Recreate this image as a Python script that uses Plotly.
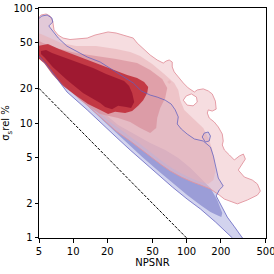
import math
import plotly.graph_objects as go

# ---- Blue group KDE contours (NPSNR, sigma_s rel %) ----
B1_X = [4.8, 5.3, 5.9, 6.5, 6.6, 6.1, 6.5, 7.4, 8.8, 11.0, 13.3, 17.3, 22.5, 27.6, 33.8, 39.8, 47.7, 55.0, 64.7, 73.1,
        79.3, 84.3, 82.6, 89.6, 101, 117, 140, 162, 172, 179, 190, 210, 194, 182, 206, 228, 264, 310, 336, 258,
        253, 179, 132, 101, 74.6, 55.0, 40.6, 31.8, 23.9, 17.3, 13.3, 8.83, 7.82, 7.07, 5.77, 5.0, 4.7]
B1_Y = [78.6, 85.2, 86.9, 81.8, 75.5, 69.8, 64.4, 54.8, 46.7, 41.4, 37.5, 33.9, 28.9, 25.1, 22.3, 19.0, 17.5, 16.8, 15.8, 14.6,
        13.0, 11.3, 9.8, 8.87, 8.02, 7.26, 6.97, 6.18, 5.16, 4.31, 3.32, 2.83, 2.62, 2.32, 1.86, 1.52, 1.25, 1.0, 0.93, 0.93,
        1.0, 1.38, 1.79, 2.18, 2.78, 3.60, 4.67, 5.82, 7.55, 10.2, 13.0, 18.6, 21.8, 24.6, 32.6, 38.2, 41.4]
B1_ISL_X = [137, 143, 155, 162, 158, 146]
B1_ISL_Y = [7.55, 8.18, 8.35, 7.71, 6.97, 6.84]
B2_X = [4.8, 7.07, 13.3, 23.9, 31.8, 40.6, 55.0, 74.6, 101, 132, 162, 186, 202, 206, 186, 162, 132, 108, 84.3, 64.7,
        47.7, 35.2, 24.9, 17.3, 11.5, 7.66, 5.65, 4.8]
B2_Y = [45.8, 26.7, 14.1, 8.18, 6.31, 5.06, 3.90, 3.01, 2.36, 1.94, 1.68, 1.58, 1.52, 1.65, 2.14, 2.72, 3.32, 4.06, 4.96, 5.82,
        6.70, 7.87, 9.61, 13.0, 18.6, 27.8, 41.4, 48.6]

# ---- Red group KDE contours ----
R1_X = [4.8, 5.2, 5.77, 6.25, 6.6, 6.78, 7.36, 8.14, 9.38, 10.6, 13.3, 15.6, 18.4, 20.3, 23.9, 28.7, 33.8, 36.6, 41.4, 47.7,
        55.0, 62.2, 66.0, 70.2, 74.6, 74.6, 77.7, 84.3, 93.3, 103, 117, 124, 140, 155, 168, 179, 182, 168, 155, 152,
        158, 175, 190, 206, 210, 206, 215, 238, 263, 291, 316, 329, 303, 285, 322, 379, 420, 446, 420, 343,
        280, 248, 215, 194, 162, 132, 112, 89.6, 71.6, 58.5, 47.7, 40.6, 31.8, 23.9, 17.3, 13.3, 9.38, 7.66, 6.25, 5.31, 4.8]
R1_Y = [78.6, 86.9, 88.7, 85.2, 77.1, 64.4, 58.2, 54.8, 53.2, 53.7, 54.8, 58.2, 60.6, 61.9, 60.6, 57.1, 54.8, 49.6, 44.0, 39.0,
        35.3, 33.2, 34.6, 35.3, 33.9, 30.7, 27.8, 25.1, 22.3, 20.2, 18.6, 19.4, 19.8, 19.0, 17.9, 15.5, 13.2, 12.7, 13.0, 12.2,
        11.05, 10.2, 9.23, 8.02, 6.97, 6.44, 5.82, 5.27, 4.77, 5.16, 5.37, 4.86, 4.23, 3.90, 3.39, 3.19, 2.95, 2.56, 2.36, 2.14,
        1.98, 2.06, 2.18, 2.36, 2.67, 2.89, 3.07, 3.39, 3.83, 4.40, 5.16, 5.82, 6.97, 8.52, 11.3, 14.1, 19.4, 24.1, 30.7, 37.5, 41.4]
HOLE_X = [93.3, 99.2, 110, 122, 124, 114, 101]
HOLE_Y = [15.8, 17.2, 17.9, 16.8, 15.2, 14.1, 14.3]
R2_ISL_X = [67.4, 70.2, 73.1, 70.2]
R2_ISL_Y = [22.7, 23.7, 22.7, 21.8]
R2_X = [4.8, 5.2, 6.25, 7.82, 10.6, 15.9, 23.9, 31.8, 38.9, 49.7, 63.4, 77.7, 84.3, 87.8, 95.2, 119, 140, 158, 168, 175,
        179, 172, 155, 132, 108, 87.8, 71.6, 58.5, 47.7, 38.9, 28.7, 21.2, 14.1, 9.38, 6.92, 5.65, 4.8]
R2_Y = [60.6, 59.4, 54.8, 49.6, 46.7, 46.7, 44.0, 41.4, 38.2, 32.6, 26.7, 22.3, 19.4, 15.8, 13.0, 10.6, 9.05, 7.12, 5.82, 4.77,
        3.75, 3.19, 2.95, 3.07, 3.32, 3.67, 4.14, 4.77, 5.60, 6.57, 8.18, 10.2, 14.3, 20.6, 28.3, 36.0, 43.1]
R3_X = [4.8, 5.43, 7.07, 10.6, 15.9, 23.9, 36.6, 47.7, 60.9, 67.4, 64.7, 58.5, 55.0, 53.9, 47.7, 38.9, 31.8, 24.9, 17.3, 11.5,
        7.66, 5.88, 4.8]
R3_Y = [52.7, 49.6, 44.9, 40.6, 38.2, 36.0, 33.2, 28.9, 24.1, 20.2, 16.5, 13.5, 11.05, 9.05, 8.18, 9.05, 10.2, 11.05, 12.0, 15.8,
        22.7, 31.3, 37.5]
R4_X = [4.8, 5.43, 6.0, 7.5, 10.4, 13.8, 18.4, 23.9, 29.9, 36.6, 42.2, 45.8, 44.9, 41.4, 37.4, 33.1, 28.7, 23.4, 20.3, 17.3,
        13.5, 10.4, 8.14, 6.51, 5.54, 4.8]
R4_Y = [46.7, 47.7, 48.6, 44.0, 39.0, 34.6, 31.3, 28.3, 26.2, 24.6, 22.7, 20.6, 18.2, 15.8, 14.1, 12.7, 12.2, 12.5, 12.0, 13.0,
        14.6, 17.5, 21.0, 26.7, 33.2, 37.5]
R5_X = [5.2, 5.77, 6.51, 8.65, 11.3, 15.0, 19.5, 23.9, 28.1, 31.1, 33.1, 34.5, 32.4, 29.3, 24.9, 22.0, 19.1, 17.3, 12.2, 8.83,
        6.6, 5.65, 5.2]
R5_Y = [42.3, 43.1, 40.6, 36.7, 33.2, 30.1, 26.7, 24.6, 23.2, 21.0, 18.2, 15.2, 13.5, 13.8, 14.1, 13.2, 13.8, 14.9, 18.2, 23.7,
        30.7, 36.7, 39.8]

# reference line sigma = 100 / NPSNR
REF_X = [5, 100]
REF_Y = [20, 1]

X_TICKS = [5, 10, 20, 50, 100, 200, 500]
Y_TICKS = [1, 2, 5, 10, 20, 50, 100]
X_RANGE = [5, 500]
Y_RANGE = [1, 100]

fig = go.Figure()


def poly(xs, ys, fill, lw=0, lc="rgba(0,0,0,0)"):
    fig.add_trace(go.Scatter(x=list(xs) + [xs[0]], y=list(ys) + [ys[0]], mode="lines", fill="toself",
                             fillcolor=fill, line=dict(width=lw, color=lc), hoverinfo="skip",
                             showlegend=False))


def outline(xs, ys, lw, lc):
    fig.add_trace(go.Scatter(x=list(xs) + [xs[0]], y=list(ys) + [ys[0]], mode="lines",
                             line=dict(width=lw, color=lc), hoverinfo="skip", showlegend=False))


A = 0.55
AD = 0.65
poly(B1_X, B1_Y, "rgb(210,211,238)")
poly(B1_ISL_X, B1_ISL_Y, "rgb(210,211,238)")
poly(B2_X, B2_Y, "rgb(155,157,215)")
poly(R1_X, R1_Y, f"rgba(239,193,199,{A})", 0.9, "rgb(226,148,158)")
poly(HOLE_X, HOLE_Y, "white", 0.9, "rgb(226,148,158)")
poly(R2_ISL_X, R2_ISL_Y, f"rgba(231,174,180,{A})")
poly(R2_X, R2_Y, f"rgba(231,174,180,{A})")
poly(R3_X, R3_Y, f"rgba(213,131,144,{A})")
poly(R4_X, R4_Y, f"rgba(182,3,15,{AD})")
poly(R5_X, R5_Y, f"rgba(140,9,40,{AD})")
outline(B1_X, B1_Y, 0.9, "rgba(95,95,190,0.85)")
outline(B1_ISL_X, B1_ISL_Y, 0.9, "rgba(95,95,190,0.85)")

fig.add_trace(go.Scatter(x=REF_X, y=REF_Y, mode="lines",
                         line=dict(color="black", width=1, dash="3px,1.4px"),
                         hoverinfo="skip", showlegend=False))

axis_common = dict(type="log", showgrid=False, zeroline=False, showline=True, linecolor="black",
                   linewidth=1, mirror=True, ticks="outside", ticklen=3.5, tickwidth=0.8,
                   tickcolor="black", tickfont=dict(size=10, color="black"), automargin=False,
                   ticklabeloverflow="allow")

eps = 1e-4
fig.update_layout(
    width=274, height=274,
    margin=dict(l=39, r=8, t=8, b=36, autoexpand=False),
    paper_bgcolor="white", plot_bgcolor="white",
    font=dict(family="DejaVu Sans", size=10, color="black"),
    xaxis=dict(range=[math.log10(X_RANGE[0]) - eps, math.log10(X_RANGE[1]) + eps],
               tickvals=X_TICKS, ticktext=[str(v) for v in X_TICKS],
               title=dict(text="NPSNR", font=dict(size=10), standoff=1), **axis_common),
    yaxis=dict(range=[math.log10(Y_RANGE[0]) - eps, math.log10(Y_RANGE[1]) + eps],
               tickvals=Y_TICKS, ticktext=[str(v) for v in Y_TICKS],
               title=dict(text="σ<sub>s</sub>rel %", font=dict(size=10), standoff=1), **axis_common),
)

fig.write_html("out.html", config={"displayModeBar": False},
               post_script="document.body.style.margin='0';document.body.style.overflow='hidden';")
